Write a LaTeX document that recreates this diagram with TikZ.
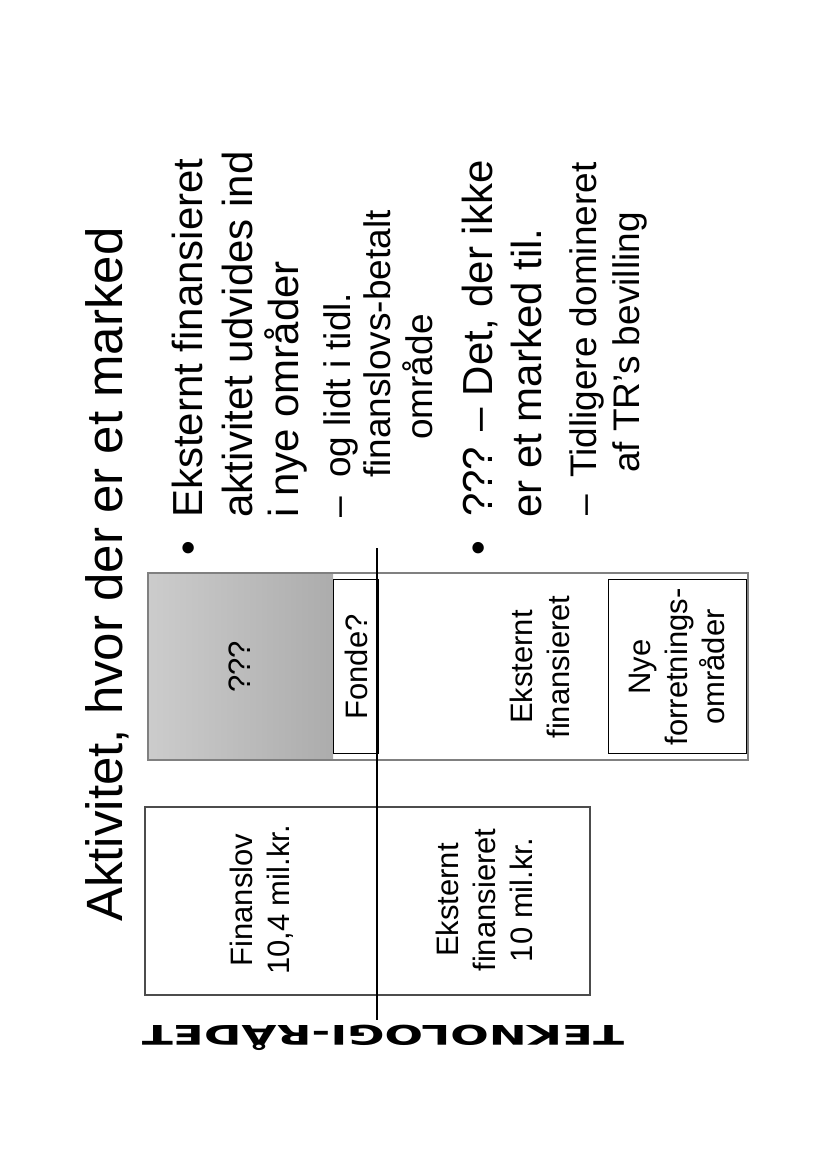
\documentclass[tikz,border=0pt]{standalone}
\usepackage{fontspec}
\setmainfont{Liberation Sans}
\newfontfamily\logofont{DejaVu Sans}
\begin{document}
\begin{tikzpicture}[x=1pt,y=-1pt,
    line/.style={rotate=90,anchor=base west,inner sep=0pt},
    big/.style={line,font=\fontsize{42}{49}\selectfont},
    small/.style={line,font=\fontsize{37}{40}\selectfont},
    boxtext/.style={rotate=90,align=center,inner sep=0pt,font=\fontsize{31}{37}\selectfont}]
  \useasboundingbox (0,0) rectangle (825,1168);
  % title
  \node[line,font=\fontsize{51}{60}\selectfont] (title) at (122,922) {Aktivitet, hvor der er et marked};
  % left box
  \draw[gray!60!black,line width=1.2pt] (145,807) rectangle (590,995);
  \node[boxtext] (fin) at (262,900) {Finanslov\\10,4 mil.kr.};
  \node[boxtext] (ekst1) at (484,900) {Eksternt\\finansieret\\10 mil.kr.};
  % right box
  \shade[left color=gray!40,right color=gray!65] (148,573) rectangle (333,760);
  \draw[gray,line width=2pt] (148,573) rectangle (748,760);
  \draw[line width=0.8pt] (333,579) rectangle (378,753);
  \draw[line width=0.8pt] (608,579) rectangle (746,753);
  \node[boxtext] (qq) at (240,667) {???};
  \node[boxtext] (fonde) at (356,667) {Fonde?};
  \node[boxtext] (ekst2) at (540,667) {Eksternt\\finansieret};
  \node[boxtext] (nye) at (677,667) {Nye\\forretnings-\\områder};
  % divider
  \draw[line width=1.2pt] (377,548) -- (377,1020);
  % bullets
  \node[big] (dot1) at (202,556) {•};
  \node[big] (p1a) at (202,518) {Eksternt finansieret};
  \node[big] (p1b) at (252,518) {aktivitet udvides ind};
  \node[big] (p1c) at (298,518) {i nye områder};
  \node[small] (d1) at (350,518) {–};
  \node[small] (s1a) at (350,478) {og lidt i tidl.};
  \node[small] (s1b) at (390,478) {finanslovs-betalt};
  \node[small] (s1c) at (432,440) {område};
  \node[big] (dot2) at (492,556) {•};
  \node[big] (p2a) at (492,517) {??? – Det, der ikke};
  \node[big] (p2b) at (541,518) {er et marked til.};
  \node[small] (d2) at (596,516) {–};
  \node[small] (s2a) at (596,478) {Tidligere domineret};
  \node[small] (s2b) at (639,473) {af TR’s bevilling};
  % logo
  \node[rotate=180,xscale=1.68,anchor=base,inner sep=0pt,font=\logofont\bfseries\fontsize{27}{30}\selectfont] (logo) at (383,1025) {TEKNOLOGI-RÅDET};
\end{tikzpicture}
\end{document}
